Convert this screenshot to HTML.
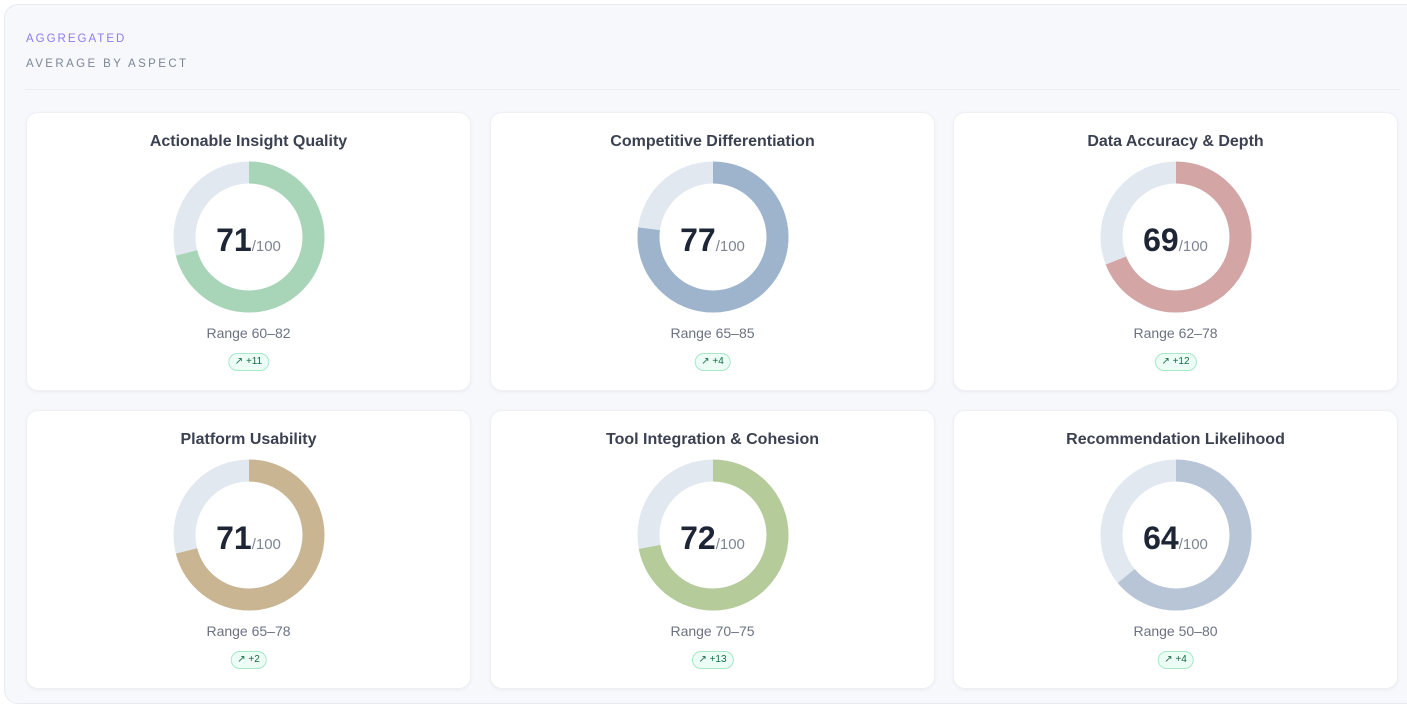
<!DOCTYPE html>
<html><head><style>
*{box-sizing:border-box;margin:0;padding:0}
body{width:1407px;height:694px;background:#fff;font-family:"Liberation Sans",sans-serif;overflow:hidden;position:relative}
.outer{position:absolute;left:4px;top:4px;width:1420px;height:700px;background:#f7f8fb;border:1px solid #e8ebf2;border-radius:14px}
.h1{position:absolute;left:26px;top:33px;font-size:11.5px;letter-spacing:2px;color:#8b7cf0}
.h2{position:absolute;left:26px;top:58px;font-size:11.5px;letter-spacing:2.4px;color:#7d8594}
.rule{position:absolute;left:25px;top:89px;width:1375px;height:1px;background:#eceef3}
.card{position:absolute;width:445px;height:279px;background:#fff;border-radius:12px;box-shadow:0 1px 3px rgba(0,0,0,.05);border:1px solid #eef0f4}
.t{position:absolute;top:20px;width:100%;text-align:center;font-size:16px;font-weight:600;color:#3b4150}
svg{position:absolute;left:146px;top:48px}
.num{position:absolute;top:109px;width:100%;text-align:center;color:#1e2636}
.num b{font-weight:600;font-size:32px}
.num span{font-size:15px;color:#7d8594}
.r{position:absolute;top:212px;width:100%;text-align:center;font-size:14px;color:#6b7280}
.bd{position:absolute;top:240px;left:50%;transform:translateX(-50%);height:18px;padding:0 6px;border:1px solid #a7e8c7;background:#ecfdf5;border-radius:9px;font-size:10px;color:#166b45;line-height:16px;white-space:nowrap}
</style></head><body>
<div class="outer"></div>
<div class="h1">AGGREGATED</div>
<div class="h2">AVERAGE BY ASPECT</div>
<div class="rule"></div>

<div class="card" style="left:26px;top:112px"><div class="t">Actionable Insight Quality</div>
<svg width="152" height="152"><circle cx="76" cy="76" r="64.5" fill="none" stroke="#e2e8f0" stroke-width="22"/><circle cx="76" cy="76" r="64.5" fill="none" stroke="#a8d5b8" stroke-width="22" stroke-dasharray="287.7 405.3" transform="rotate(-90 76 76)"/></svg>
<div class="num"><b>71</b><span>/100</span></div><div class="r">Range 60–82</div><div class="bd">↗ +11</div></div>

<div class="card" style="left:490px;top:112px"><div class="t">Competitive Differentiation</div>
<svg width="152" height="152"><circle cx="76" cy="76" r="64.5" fill="none" stroke="#e2e8f0" stroke-width="22"/><circle cx="76" cy="76" r="64.5" fill="none" stroke="#9db4cc" stroke-width="22" stroke-dasharray="312.1 405.3" transform="rotate(-90 76 76)"/></svg>
<div class="num"><b>77</b><span>/100</span></div><div class="r">Range 65–85</div><div class="bd">↗ +4</div></div>

<div class="card" style="left:953px;top:112px"><div class="t">Data Accuracy &amp; Depth</div>
<svg width="152" height="152"><circle cx="76" cy="76" r="64.5" fill="none" stroke="#e2e8f0" stroke-width="22"/><circle cx="76" cy="76" r="64.5" fill="none" stroke="#d4a5a5" stroke-width="22" stroke-dasharray="279.7 405.3" transform="rotate(-90 76 76)"/></svg>
<div class="num"><b>69</b><span>/100</span></div><div class="r">Range 62–78</div><div class="bd">↗ +12</div></div>

<div class="card" style="left:26px;top:410px"><div class="t">Platform Usability</div>
<svg width="152" height="152"><circle cx="76" cy="76" r="64.5" fill="none" stroke="#e2e8f0" stroke-width="22"/><circle cx="76" cy="76" r="64.5" fill="none" stroke="#c9b591" stroke-width="22" stroke-dasharray="287.7 405.3" transform="rotate(-90 76 76)"/></svg>
<div class="num"><b>71</b><span>/100</span></div><div class="r">Range 65–78</div><div class="bd">↗ +2</div></div>

<div class="card" style="left:490px;top:410px"><div class="t">Tool Integration &amp; Cohesion</div>
<svg width="152" height="152"><circle cx="76" cy="76" r="64.5" fill="none" stroke="#e2e8f0" stroke-width="22"/><circle cx="76" cy="76" r="64.5" fill="none" stroke="#b5cb9a" stroke-width="22" stroke-dasharray="291.8 405.3" transform="rotate(-90 76 76)"/></svg>
<div class="num"><b>72</b><span>/100</span></div><div class="r">Range 70–75</div><div class="bd">↗ +13</div></div>

<div class="card" style="left:953px;top:410px"><div class="t">Recommendation Likelihood</div>
<svg width="152" height="152"><circle cx="76" cy="76" r="64.5" fill="none" stroke="#e2e8f0" stroke-width="22"/><circle cx="76" cy="76" r="64.5" fill="none" stroke="#b8c5d6" stroke-width="22" stroke-dasharray="259.4 405.3" transform="rotate(-90 76 76)"/></svg>
<div class="num"><b>64</b><span>/100</span></div><div class="r">Range 50–80</div><div class="bd">↗ +4</div></div>
</body></html>
